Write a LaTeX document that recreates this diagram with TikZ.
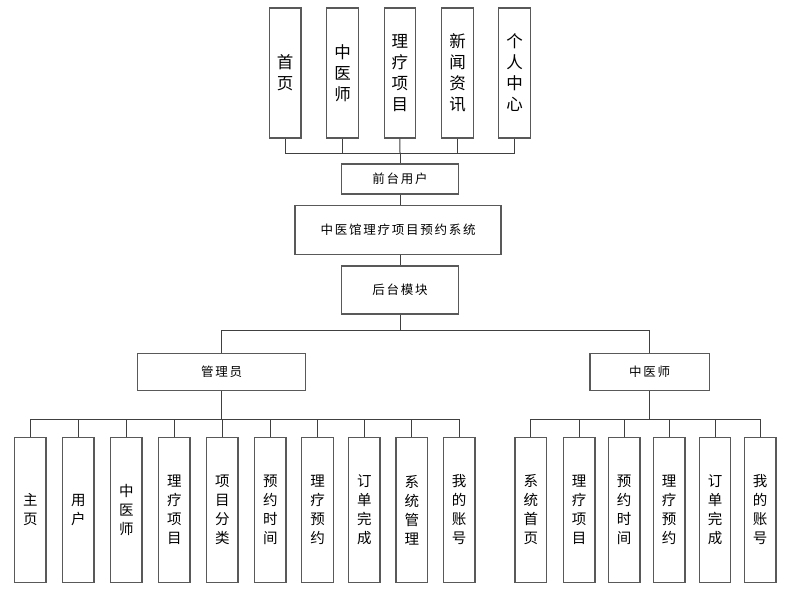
\documentclass[tikz,border=0pt]{standalone}
\usepackage{fontspec}
\newfontfamily\cjk{Noto Sans CJK SC}
\newfontfamily\cjkwide[LetterSpace=14]{Noto Sans CJK SC}
\usetikzlibrary{calc}
\tikzset{
  modbox/.style={draw=black!65, fill=white, line width=1.2pt, inner sep=0pt},
  topbox/.style={modbox, minimum width=31.5, minimum height=130, align=center,
    font=\cjk\fontsize{16.5}{21}\selectfont},
  leafbox/.style={modbox, minimum width=31.5, minimum height=145.4, align=center,
    font=\cjk\fontsize{14.5}{19}\selectfont},
  hbox/.style={modbox, font=\cjkwide\fontsize{12.5}{14}\selectfont},
  link/.style={draw=black!75, line width=1pt}
}
\def\leafnode(#1,#2,#3){
  \node[leafbox] (#1) at (#2,510) {#3};
}
\begin{document}
\begin{tikzpicture}[x=1pt,y=-1pt]
\useasboundingbox (0,0) rectangle (793,592);
% front modules
\node[topbox] (top1) at (285.2,73) {首\\页};
\node[topbox] (top2) at (342.5,73) {中\\医\\师};
\node[topbox] (top3) at (399.9,73) {理\\疗\\项\\目};
\node[topbox] (top4) at (457.5,73) {新\\闻\\资\\讯};
\node[topbox] (top5) at (514.5,73) {个\\人\\中\\心};
\node[hbox, minimum width=116.6, minimum height=30] (fore) at (400,179) {前台用户};
\node[hbox, minimum width=206, minimum height=48.3] (sys) at (398,230) {中医馆理疗项目预约系统};
\node[hbox, minimum width=116.6, minimum height=48] (back) at (400,290) {后台模块};
\node[hbox, minimum width=168, minimum height=37.4] (admin) at (221.7,372) {管理员};
\node[hbox, minimum width=119.3, minimum height=37.4] (doctor) at (649.7,372) {中医师};
% admin modules
\leafnode(a1,30.3,主\\页)
\leafnode(a2,78.3,用\\户)
\leafnode(a3,126.3,中\\医\\师)
\leafnode(a4,174.3,理\\疗\\项\\目)
\leafnode(a5,222.3,项\\目\\分\\类)
\leafnode(a6,270.3,预\\约\\时\\间)
\leafnode(a7,317.5,理\\疗\\预\\约)
\leafnode(a8,364.3,订\\单\\完\\成)
\leafnode(a9,411.8,系\\统\\管\\理)
\leafnode(a10,459.2,我\\的\\账\\号)
% doctor modules
\leafnode(d1,530.8,系\\统\\首\\页)
\leafnode(d2,579.2,理\\疗\\项\\目)
\leafnode(d3,624.2,预\\约\\时\\间)
\leafnode(d4,669.2,理\\疗\\预\\约)
\leafnode(d5,715,订\\单\\完\\成)
\leafnode(d6,760.2,我\\的\\账\\号)
% connectors
\coordinate (fbus) at (400,153);
\coordinate (bbus) at (400,330);
\coordinate (abus) at (221.7,419);
\coordinate (dbus) at (649.7,419);
\draw[link] (top1.south) |- (fbus) -- (fore.north);
\draw[link] (top2.south) |- (fbus);
\draw[link] (top3.south) -- (fbus);
\draw[link] (top4.south) |- (fbus);
\draw[link] (top5.south) |- (fbus);
\draw[link] (fore.south) -- (fore.south |- sys.north);
\draw[link] (sys.south -| back.north) -- (back.north);
\draw[link] (back.south) -- (bbus) -| (admin.north);
\draw[link] (bbus) -| (doctor.north);
\draw[link] (admin.south) -- (abus);
\draw[link] (a1.north) |- (abus);
\draw[link] (a2.north) |- (abus);
\draw[link] (a3.north) |- (abus);
\draw[link] (a4.north) |- (abus);
\draw[link] (a5.north) |- (abus);
\draw[link] (a6.north) |- (abus);
\draw[link] (a7.north) |- (abus);
\draw[link] (a8.north) |- (abus);
\draw[link] (a9.north) |- (abus);
\draw[link] (a10.north) |- (abus);
\draw[link] (doctor.south) -- (dbus);
\draw[link] (d1.north) |- (dbus);
\draw[link] (d2.north) |- (dbus);
\draw[link] (d3.north) |- (dbus);
\draw[link] (d4.north) |- (dbus);
\draw[link] (d5.north) |- (dbus);
\draw[link] (d6.north) |- (dbus);
\end{tikzpicture}
\end{document}
